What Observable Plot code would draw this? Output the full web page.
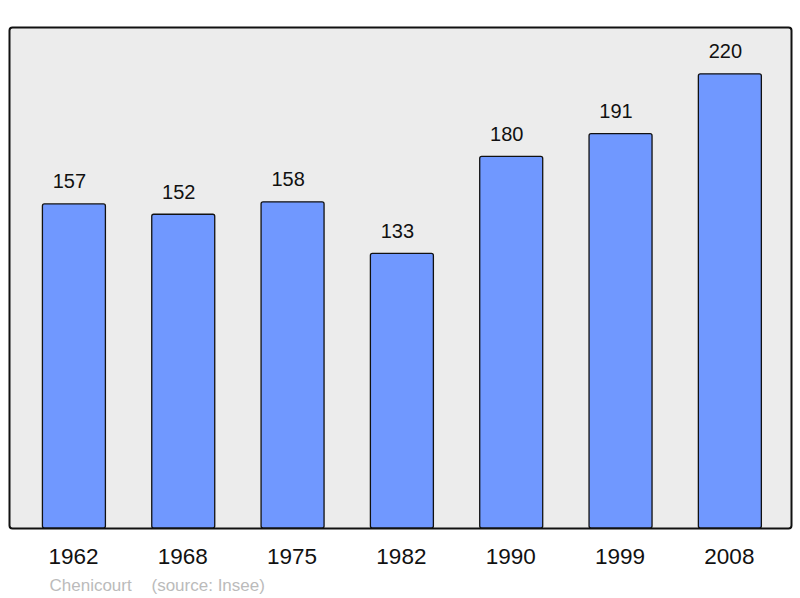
<!DOCTYPE html>
<html>
<head>
<meta charset="utf-8">
<script src="https://cdn.jsdelivr.net/npm/d3@7"></script>
<script src="https://cdn.jsdelivr.net/npm/@observablehq/plot@0.6"></script>
<style>
  html, body { margin: 0; padding: 0; background: #fff; }
  svg { font-family: "Liberation Sans", Arial, sans-serif; }
</style>
</head>
<body>
<div id="chart"></div>
<script>
const years = ["1962", "1968", "1975", "1982", "1990", "1999", "2008"];
const population = [157, 152, 158, 133, 180, 191, 220];
const place = "Chenicourt";
const source = "(source: Insee)";

const data = years.map((y, i) => ({year: y, value: population[i]}));

const chart = Plot.plot({
  width: 800,
  height: 598,
  marginLeft: 9,
  marginRight: 9,
  marginTop: 27,
  marginBottom: 70,
  style: {fontFamily: "'Liberation Sans', Arial, sans-serif", background: "#ffffff"},
  x: {domain: years, paddingInner: 0.4238, paddingOuter: 0.2884, align: 0.53, round: false, label: null},
  y: {domain: [0, 242.7], axis: null},
  marks: [
    Plot.frame({fill: "#ececec", stroke: "#111", strokeWidth: 2, rx: 3}),
    Plot.barY(data, {x: "year", y: "value", fill: "#7098ff", stroke: "#111", strokeWidth: 1.3, rx: 2}),
    Plot.text(data, {x: "year", y: "value", text: d => String(d.value), lineAnchor: "bottom", dy: -16, dx: -5, fontSize: 20, fill: "#111"}),
    Plot.axisX({tickSize: 0, tickPadding: 20, fontSize: 22.5, dx: -1, label: null, color: "#111"}),
    Plot.text([place], {frameAnchor: "bottom-left", dx: 40, dy: 62, text: d => d, fontSize: 17, fill: "#bbbbbb", textAnchor: "start"}),
    Plot.text([source], {frameAnchor: "bottom-left", dx: 142, dy: 62, text: d => d, fontSize: 17, fill: "#bbbbbb", textAnchor: "start"})
  ]
});
document.getElementById("chart").appendChild(chart);
</script>
</body>
</html>
